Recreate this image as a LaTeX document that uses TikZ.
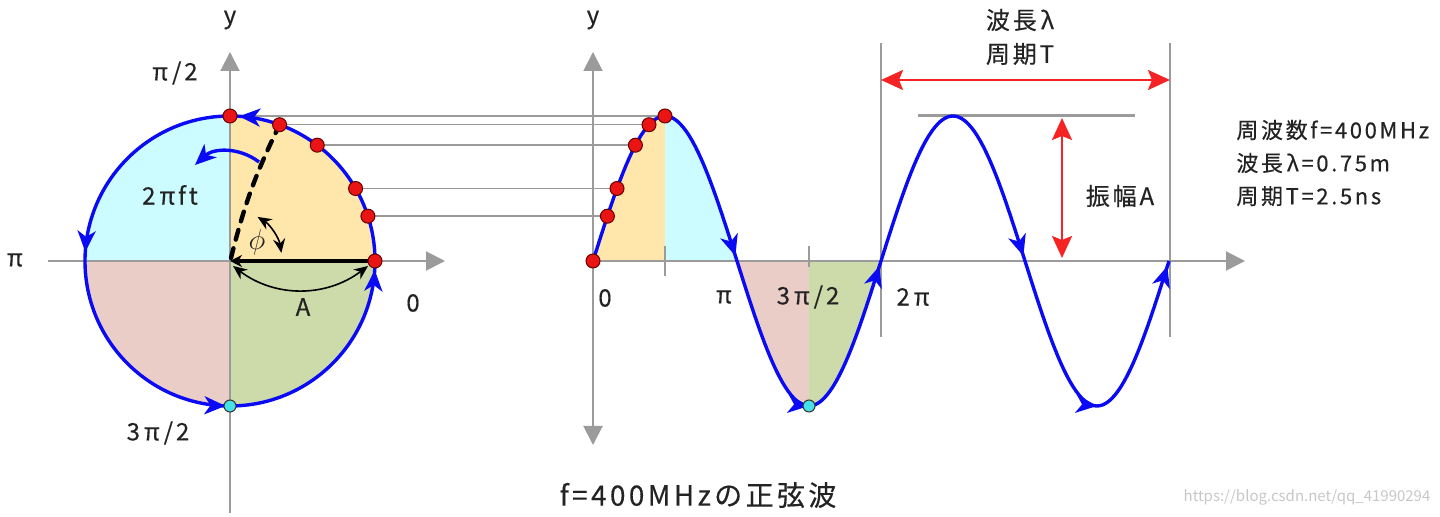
\documentclass[tikz,border=0pt]{standalone}
\usepackage{fontspec}
\setmainfont{Noto Sans CJK JP}[LetterSpace=12, FakeBold=0.4]
\newfontfamily\plainjp{Noto Sans CJK JP}
\usetikzlibrary{arrows.meta,decorations.markings}

\definecolor{qone}{RGB}{255,230,170}
\definecolor{qtwo}{RGB}{204,252,255}
\definecolor{qthree}{RGB}{235,205,200}
\definecolor{qfour}{RGB}{205,218,170}
\definecolor{axisgray}{RGB}{155,155,155}
\definecolor{wavblue}{RGB}{10,10,245}
\definecolor{spanred}{RGB}{245,35,35}
\definecolor{dotred}{RGB}{235,20,20}
\definecolor{dotcyan}{RGB}{70,225,230}
\definecolor{txt}{RGB}{35,35,35}

\tikzset{
	axis/.style={draw=axisgray, line width=1pt},
	axtip/.style={-{Triangle[length=9.5pt,width=9.5pt]}},
	guide/.style={draw=axisgray, line width=0.9pt},
	proj/.style={draw=axisgray, line width=0.7pt},
	wave/.style={draw=wavblue, line width=1.7pt},
	flowmark/.style={postaction={decorate, decoration={markings,
		mark=at position #1 with {\arrow{Stealth[length=10.5pt,width=9pt,inset=3pt]}}}}},
	arm/.style={draw=black, line width=2.2pt},
	measure/.style={draw=black, line width=0.8pt, {Stealth[length=7pt,width=6pt]}-{Stealth[length=7pt,width=6pt]}},
	span/.style={draw=spanred, line width=1.2pt, {Stealth[length=11pt,width=10pt,inset=2pt]}-{Stealth[length=11pt,width=10pt,inset=2pt]}},
	dot/.style={fill=dotred, draw=black!60!red, line width=0.5pt},
	cdot/.style={fill=dotcyan, draw=black!80, line width=0.5pt},
	lbl/.style={text=txt, inner sep=0pt, font=\fontsize{12}{14}\selectfont}
}

\begin{document}
\begin{tikzpicture}[x=0.5pt, y=0.5pt]
	\useasboundingbox (0,-256) rectangle (1440,261);

	\fill[qone] (230,0) -- (375,0) arc[start angle=0, end angle=90, radius=145] -- cycle;
	\fill[qtwo] (230,0) -- (230,145) arc[start angle=90, end angle=180, radius=145] -- cycle;
	\fill[qthree] (230,0) -- (85,0) arc[start angle=180, end angle=270, radius=145] -- cycle;
	\fill[qfour] (230,0) -- (230,-145) arc[start angle=270, end angle=360, radius=145] -- cycle;

	\fill[qone] (593,0) -- plot[domain=0:72, samples=30] ({593+\x},{145*sin(1.25*\x)}) -- (665,0) -- cycle;
	\fill[qtwo] (665,0) -- plot[domain=72:144, samples=30] ({593+\x},{145*sin(1.25*\x)}) -- cycle;
	\fill[qthree] (737,0) -- plot[domain=144:216, samples=30] ({593+\x},{145*sin(1.25*\x)}) -- (809,0) -- cycle;
	\fill[qfour] (809,0) -- plot[domain=216:288, samples=30] ({593+\x},{145*sin(1.25*\x)}) -- cycle;

	\draw[axis, axtip] (48,0) -- (445,0);
	\draw[axis, axtip] (230,-252) -- (230,209);
	\draw[axis, {Triangle[length=9.5pt,width=9.5pt]}-{Triangle[length=9.5pt,width=9.5pt]}] (593,-184) -- (593,209);
	\draw[axis, axtip] (593,0) -- (1245,0);
	\draw[axis] (665,15) -- (665,-15);
	\draw[axis] (809,15) -- (809,-6);

	\draw[guide] (881,218) -- (881,-76);
	\draw[guide] (1170,218) -- (1170,-76);
	\draw[axis, line width=1.5pt] (918,145) -- (1135,145);
	\draw[span] (881,181) -- (1170,181);
	\draw[span] (1062,143) -- (1062,3);

	\foreach \a [count=\i] in {0,18,30,53,70,90} {
		\coordinate (c\i) at ({230+145*cos(\a)},{145*sin(\a)});
		\coordinate (s\i) at ({593+0.8*\a},{145*sin(\a)});
	}
	\foreach \i in {2,...,6}
		\draw[proj] (c\i) -- (s\i);

	\draw[arm, {Stealth[length=6pt,width=6pt]}-] (230,0) -- (c1);
	\draw[arm, line width=2.2pt, line cap=round, dash pattern=on 5pt off 4.5pt] (231,3) to[bend left=6] (c5);
	\draw[measure] (230,0) ++(58:52) arc[start angle=58, end angle=9, radius=52];
	\draw[measure] (233,-5) to[bend right=37] (368,-5);
	\draw[wave, -{Stealth[length=10.5pt,width=9pt,inset=3pt]}] (259,99) to[bend right=40] (195,96);

	\draw[wave, flowmark=0.24, flowmark=0.49, flowmark=0.745, flowmark=0.99]
		(375,0) arc[start angle=0, end angle=360, radius=145];
	\draw[wave, line join=round, flowmark=0.492, flowmark=0.75, flowmark=0.992]
		plot[domain=0:288, samples=97] ({593+\x},{145*sin(1.25*\x)});
	\draw[wave, line join=round, flowmark=0.492, flowmark=0.75, flowmark=0.992]
		plot[domain=288:576, samples=97] ({593+\x},{145*sin(1.25*\x)});

	\foreach \i in {1,...,6} {
		\filldraw[dot] (c\i) circle[radius=7];
		\filldraw[dot] (s\i) circle[radius=7];
	}
	\filldraw[cdot] (230,-145) circle[radius=6];
	\filldraw[cdot] (809,-145) circle[radius=6];

	\node[lbl] (yleft) at (230,241) {y};
	\node[lbl] (halfpi) at (175,188) {π\,/2};
	\node[lbl] (pileft) at (15,1) {π};
	\node[lbl] (zeroleft) at (413,-42) {0};
	\node[lbl] (threehalf) at (158,-172) {3\,π\,/2};
	\node[lbl] (omega) at (170,66) {2\,πft};
	\node[lbl, font=\fontsize{15}{16}\selectfont] (phi) at (257,19) {$\phi$};
	\node[lbl] (amp) at (303,-46) {A};

	\node[lbl] (yright) at (593,241) {y};
	\node[lbl] (zero) at (605,-37) {0};
	\node[lbl] (pi) at (724,-36) {π};
	\node[lbl] (threehalfpi) at (808,-36) {3\,π\,/2};
	\node[lbl] (twopi) at (913,-36) {2\,π};

	\node[lbl] (wavelength) at (1020,241) {波長\,λ};
	\node[lbl] (period) at (1020,207) {周期T};
	\node[lbl] (amplitude) at (1120,65) {振幅A};
	\node[lbl, anchor=west, align=left, font=\fontsize{11}{16.5}\selectfont] (info) at (1236,98)
		{周波数f=400MHz\\波長\,λ=0.75m\\周期T=2.5ns};

	\node[lbl, font=\fontsize{14}{16}\selectfont] (title) at (698,-234) {f=400MHzの正弦波};
	\node[lbl, text=black!22, font=\plainjp\fontsize{7.5}{9}\selectfont] (mark) at (1307,-236) {https://blog.csdn.net/qq\_41990294};
\end{tikzpicture}
\end{document}
